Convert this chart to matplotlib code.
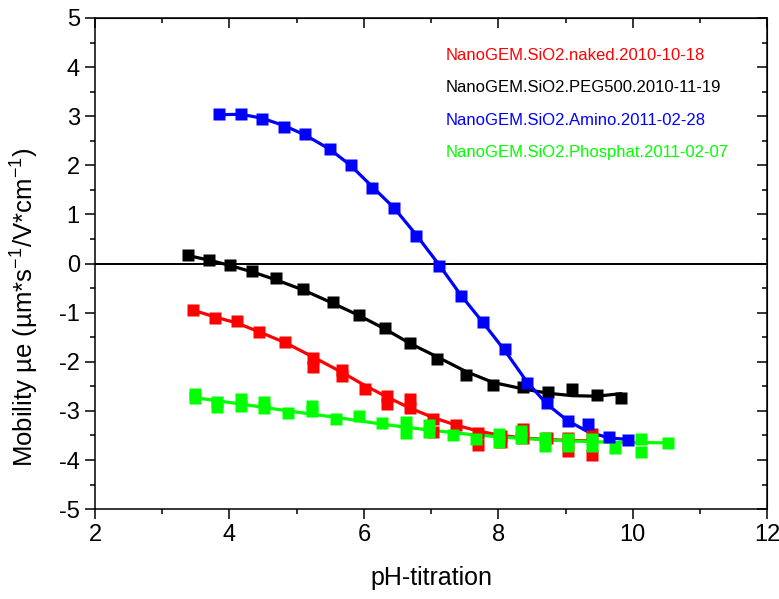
import matplotlib
matplotlib.use("Agg")
import matplotlib.pyplot as plt
from matplotlib.lines import Line2D
from matplotlib.ticker import MultipleLocator

plt.rcParams["font.family"] = ["Liberation Sans", "DejaVu Sans"]
plt.rcParams["axes.unicode_minus"] = False

# zeta mobility vs. pH titration, four SiO2 surface chemistries
naked_ph = [3.46, 3.79, 4.11, 4.44, 4.83, 5.24, 5.24, 5.68, 5.68, 6.01, 6.35, 6.35, 6.68, 6.68,
            7.02, 7.02, 7.37, 7.70, 7.70, 8.04, 8.04, 8.36, 8.36, 8.72, 9.04, 9.04, 9.39, 9.39]
naked_mob = [-0.94, -1.10, -1.16, -1.39, -1.59, -1.93, -2.11, -2.16, -2.28, -2.56, -2.69, -2.85,
             -2.76, -2.95, -3.16, -3.43, -3.28, -3.44, -3.70, -3.52, -3.64, -3.37, -3.56, -3.55,
             -3.56, -3.81, -3.47, -3.90]
naked_fit_ph = [3.46, 3.79, 4.11, 4.44, 4.83, 5.24, 5.68, 6.01, 6.35, 6.68, 7.02, 7.37, 7.70,
                8.04, 8.36, 8.72, 9.04, 9.39]
naked_fit = [-0.95, -1.09, -1.21, -1.39, -1.61, -1.90, -2.22, -2.48, -2.72, -2.94, -3.13, -3.29,
             -3.41, -3.50, -3.55, -3.58, -3.60, -3.61]

peg_ph = [3.39, 3.70, 4.01, 4.34, 4.69, 5.10, 5.54, 5.93, 6.31, 6.69, 7.09, 7.52, 7.92, 8.36,
          8.74, 9.10, 9.46, 9.82]
peg_mob = [0.17, 0.08, -0.02, -0.16, -0.30, -0.52, -0.79, -1.04, -1.31, -1.62, -1.95, -2.27,
           -2.47, -2.52, -2.61, -2.56, -2.67, -2.74]
peg_fit = [0.16, 0.07, -0.04, -0.17, -0.33, -0.54, -0.81, -1.06, -1.33, -1.63, -1.90, -2.20,
           -2.42, -2.55, -2.64, -2.69, -2.70, -2.65]

amino_ph = [3.85, 4.17, 4.48, 4.81, 5.12, 5.49, 5.80, 6.12, 6.45, 6.78, 7.12, 7.44, 7.77, 8.10,
            8.42, 8.72, 9.03, 9.34, 9.65, 9.93]
amino_mob = [3.05, 3.05, 2.94, 2.78, 2.63, 2.34, 2.00, 1.54, 1.14, 0.56, -0.05, -0.67, -1.18,
             -1.74, -2.43, -2.84, -3.20, -3.27, -3.53, -3.60]
amino_fit = [3.03, 3.04, 2.96, 2.81, 2.62, 2.33, 2.00, 1.57, 1.13, 0.58, -0.03, -0.64, -1.20,
             -1.78, -2.40, -2.86, -3.20, -3.43, -3.55, -3.58]

phos_ph = [3.48, 3.48, 3.82, 3.82, 4.17, 4.17, 4.52, 4.52, 4.87, 5.22, 5.22, 5.58, 5.92, 6.27,
           6.62, 6.62, 6.97, 6.97, 7.32, 7.66, 8.01, 8.01, 8.34, 8.34, 8.69, 8.69, 9.04, 9.04,
           9.39, 9.39, 9.73, 10.12, 10.12, 10.52]
phos_mob = [-2.65, -2.73, -2.81, -2.93, -2.76, -2.91, -2.82, -2.95, -3.04, -2.91, -3.01, -3.16,
            -3.11, -3.25, -3.23, -3.45, -3.28, -3.42, -3.49, -3.58, -3.47, -3.63, -3.40, -3.56,
            -3.56, -3.71, -3.58, -3.72, -3.58, -3.72, -3.75, -3.58, -3.83, -3.65]
phos_fit_ph = [3.48, 4.17, 4.87, 5.58, 6.27, 6.97, 7.66, 8.34, 9.04, 9.73, 10.52]
phos_fit = [-2.73, -2.86, -3.00, -3.13, -3.27, -3.39, -3.49, -3.56, -3.61, -3.64, -3.65]

labels = ["NanoGEM.SiO2.naked.2010-10-18", "NanoGEM.SiO2.PEG500.2010-11-19",
          "NanoGEM.SiO2.Amino.2011-02-28", "NanoGEM.SiO2.Phosphat.2011-02-07"]
colors = ["#ff0000", "#000000", "#0000ff", "#00ff00"]

series = [
    (naked_ph, naked_mob, naked_fit_ph, naked_fit),
    (peg_ph, peg_mob, peg_ph, peg_fit),
    (phos_ph, phos_mob, phos_fit_ph, phos_fit),
    (amino_ph, amino_mob, amino_ph, amino_fit),
]
series_colors = [colors[0], colors[1], colors[3], colors[2]]

fig = plt.figure(figsize=(7.79, 5.99), dpi=100)
ax = fig.add_axes([0.122, 0.150, 0.863, 0.820])

ax.axhline(0, color="black", lw=1.4, zorder=1)
for (px, py, fx, fy), c in zip(series, series_colors):
    ax.plot(fx, fy, color=c, lw=2.3, zorder=2)
    ax.plot(px, py, ls="none", marker="s", ms=8.8, mec="none", mfc=c, zorder=3)

ax.set_xlim(2, 12)
ax.set_ylim(-5, 5)
ax.xaxis.set_major_locator(MultipleLocator(2))
ax.xaxis.set_minor_locator(MultipleLocator(1))
ax.yaxis.set_major_locator(MultipleLocator(1))
ax.yaxis.set_minor_locator(MultipleLocator(0.5))
ax.tick_params(which="both", direction="out", width=1.1, labelsize=17, pad=4)
ax.tick_params(which="major", length=7)
ax.tick_params(which="minor", length=3.5)
for sp in ax.spines.values():
    sp.set_linewidth(1.1)

# inward ticks on the top and right frame
for other, loc in ((ax.secondary_xaxis("top"), "x"), (ax.secondary_yaxis("right"), "y")):
    axis = other.xaxis if loc == "x" else other.yaxis
    axis.set_major_locator(MultipleLocator(2 if loc == "x" else 1))
    axis.set_minor_locator(MultipleLocator(1 if loc == "x" else 0.5))
    other.tick_params(which="both", direction="in", width=1.1, labelsize=0)
    other.tick_params(which="major", length=7)
    other.tick_params(which="minor", length=3.5)
    axis.set_ticklabels([])
    axis.set_ticklabels([], minor=True)

ax.set_xlabel("pH-titration", fontsize=18, labelpad=14)
ax.set_ylabel(r"Mobility µe (µm*s$^{\mathregular{-1}}$/V*cm$^{\mathregular{-1}}$)",
              fontsize=18.5)
ax.yaxis.set_label_coords(-0.082, 0.411)

handles = [Line2D([], [], ls="none", color=c) for c in colors]
ax.legend(handles, labels, loc="upper left", bbox_to_anchor=(0.521, 0.939), frameon=False,
          handlelength=0, handletextpad=0, borderpad=0, borderaxespad=0,
          labelspacing=1.05, fontsize=12, labelcolor=colors)

fig.savefig("out.png", dpi=100)
